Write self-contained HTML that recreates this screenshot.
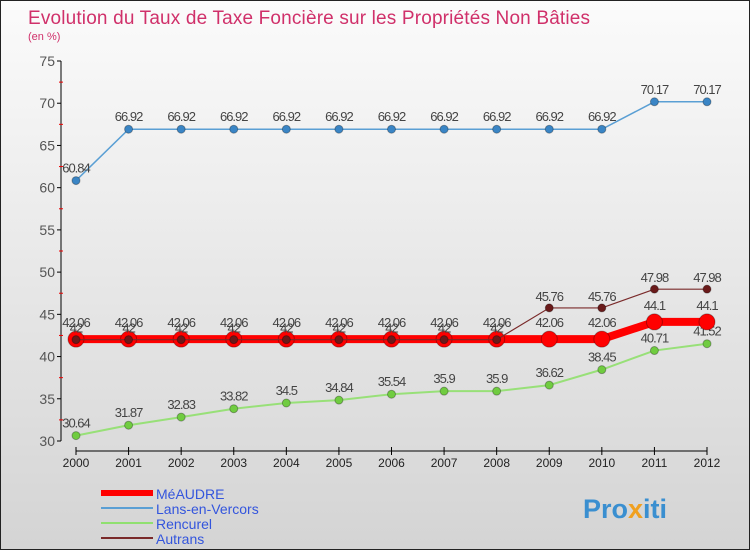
<!DOCTYPE html>
<html><head><meta charset="utf-8"><style>
body{margin:0}
#c{width:750px;height:550px;position:relative;overflow:hidden;background:linear-gradient(#fbfbfb,#d4d4d4);border:1px solid #222;box-sizing:border-box;font-family:"Liberation Sans","DejaVu Sans",sans-serif}
</style></head><body>
<div id="c">
<svg id="s" width="750" height="550">
<text x="27" y="23" font-size="19" fill="#d0306a" textLength="562">Evolution du Taux de Taxe Foncière sur les Propriétés Non Bâties</text>
<text x="27" y="39" font-size="11" fill="#d0306a">(en %)</text>
<g id="axes"></g><g id="series"></g>
<g>
<line x1="100" y1="492" x2="152" y2="492" stroke="#f00" stroke-width="6"/>
<text x="155" y="498" font-size="14" fill="#3355dd">MéAUDRE</text>
<line x1="100" y1="507" x2="152" y2="507" stroke="#5a9fd4" stroke-width="2"/>
<text x="155" y="513" font-size="14" fill="#3355dd">Lans-en-Vercors</text>
<line x1="100" y1="522" x2="152" y2="522" stroke="#90e070" stroke-width="2"/>
<text x="155" y="528" font-size="14" fill="#3355dd">Rencurel</text>
<line x1="100" y1="537" x2="152" y2="537" stroke="#7a2a2a" stroke-width="2"/>
<text x="155" y="543" font-size="14" fill="#3355dd">Autrans</text>
</g>
<text x="582" y="517" font-size="27" font-weight="bold" fill="#3a8fd0">Pro<tspan fill="#f0a020">x</tspan>iti</text>
</svg></div>
<script>
const years=[2000,2001,2002,2003,2004,2005,2006,2007,2008,2009,2010,2011,2012];
const meaudre=[42.06,42.06,42.06,42.06,42.06,42.06,42.06,42.06,42.06,42.06,42.06,44.1,44.1];
const lans=[60.84,66.92,66.92,66.92,66.92,66.92,66.92,66.92,66.92,66.92,66.92,70.17,70.17];
const rencurel=[30.64,31.87,32.83,33.82,34.5,34.84,35.54,35.9,35.9,36.62,38.45,40.71,41.52];
const autrans=[42,42,42,42,42,42,42,42,42,45.76,45.76,47.98,47.98];
const yTicks=[30,35,40,45,50,55,60,65,70,75];
const NS="http://www.w3.org/2000/svg";
const X=i=>75+i*(706-75)/(years.length-1);
const Y=v=>440-(v-30)*(380/45);
function mk(t,a,p){const e=document.createElementNS(NS,t);for(const k in a)e.setAttribute(k,a[k]);p.appendChild(e);return e;}
const ax=document.getElementById('axes');
let l=mk('line',{x1:60,y1:60,x2:60,y2:440,stroke:'#000'},ax);


l=mk('line',{x1:75,y1:450,x2:706,y2:450,stroke:'#000'},ax);


yTicks.forEach((v,i)=>{
 mk('line',{x1:56,y1:Y(v),x2:60,y2:Y(v),stroke:'#000'},ax);
 if(i<yTicks.length-1)mk('line',{x1:58,y1:Y(v+2.5),x2:62,y2:Y(v+2.5),stroke:'#e00'},ax);
 const t=mk('text',{x:54,y:Y(v)+5,'font-size':14,fill:'#555','text-anchor':'end'},ax);t.textContent=v;
 
 
});
years.forEach((yr,i)=>{
 mk('line',{x1:X(i),y1:446,x2:X(i),y2:454,stroke:'#000'},ax);
 const t=mk('text',{x:X(i),y:466,'font-size':12,fill:'#222','text-anchor':'middle'},ax);t.textContent=yr;
 
 
});
const sg=document.getElementById('series');
function series(name,vals,color,w,r,mcol,labOff){
 const g=mk('g',{},sg);
 
 
 const p=mk('polyline',{points:vals.map((v,i)=>X(i)+','+Y(v)).join(' '),fill:'none',stroke:color,'stroke-width':w},g);
 
 
 vals.forEach((v,i)=>{
  const c=mk('circle',{cx:X(i),cy:Y(v),r:r,fill:mcol,stroke:'rgba(0,0,0,0.3)'},g);
  
  
  const t=mk('text',{x:X(i),y:Y(v)-labOff,'font-size':13,fill:'#444','text-anchor':'middle','letter-spacing':'-1'},g);t.textContent=v;
  
  
 });
}
series('lans',lans,'#5a9fd4',1.5,4,'#3a85c5',8);
series('rencurel',rencurel,'#98e078',2,4,'#70cc40',8);
series('meaudre',meaudre,'#f00',8,8,'#f00',12);
series('autrans',autrans,'#7a2a2a',1.2,4,'#6a1a1a',7);
</script>
</body></html>
